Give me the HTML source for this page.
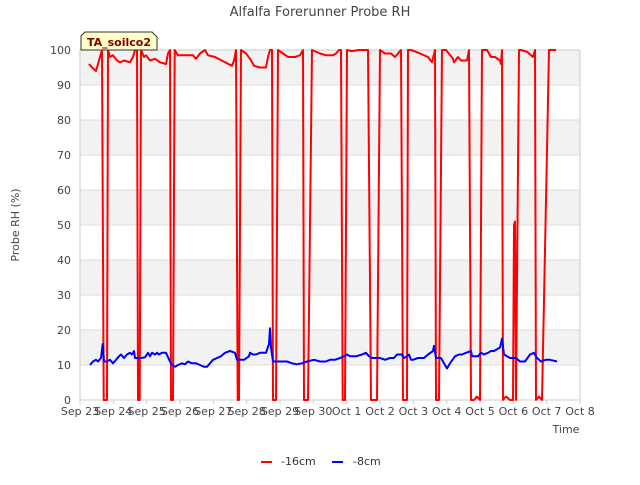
<!DOCTYPE html>
<html><head><meta charset="utf-8"><style>
body{margin:0;background:#fff;font-family:"Liberation Sans","DejaVu Sans",sans-serif}
svg text{font-family:"DejaVu Sans","Liberation Sans",sans-serif}
</style></head><body>
<svg id="c" width="640" height="480" xmlns="http://www.w3.org/2000/svg">
<text x="320" y="16" text-anchor="middle" font-size="13" fill="#444">Alfalfa Forerunner Probe RH</text>
<g id="bands"></g><g id="grid"></g><g id="ticks"></g>
<rect x="80" y="50" width="500" height="350" fill="none" stroke="#ccc"/>
<g id="series"></g>
<text transform="translate(19,225) rotate(-90)" text-anchor="middle" font-size="11" fill="#444">Probe RH (%)</text>
<text x="566" y="433" text-anchor="middle" font-size="11" fill="#444">Time</text>
<g>
<path d="M85,32 L152,32 L157,37 L157,50 L81,50 L81,36 Z" fill="#ffffc8" stroke="#333"/>
<text x="119" y="46" text-anchor="middle" font-size="11" font-weight="bold" fill="#800000">TA_soilco2</text></g>
<g><line x1="261" y1="462" x2="272" y2="462" stroke="red" stroke-width="2"/><text x="281" y="465" font-size="11" fill="#333">-16cm</text></g>
<g><line x1="332" y1="462" x2="343" y2="462" stroke="blue" stroke-width="2"/><text x="353" y="465" font-size="11" fill="#333">-8cm</text></g>
</svg>
<script>
const xTickLabels=["Sep 23","Sep 24","Sep 25","Sep 26","Sep 27","Sep 28","Sep 29","Sep 30","Oct 1","Oct 2","Oct 3","Oct 4","Oct 5","Oct 6","Oct 7","Oct 8"];
const yTicks=[0,10,20,30,40,50,60,70,80,90,100];
const redDays=[0.27,0.36,0.48,0.57,0.66,0.71,0.81,0.84,0.90,0.99,1.11,1.2,1.32,1.5,1.59,1.65,1.71,1.74,1.79,1.83,1.92,1.98,2.1,2.25,2.4,2.58,2.64,2.7,2.73,2.79,2.84,2.94,3.15,3.39,3.48,3.6,3.75,3.84,4.05,4.35,4.56,4.62,4.68,4.73,4.77,4.83,4.98,5.1,5.22,5.4,5.58,5.64,5.7,5.76,5.79,5.88,5.94,6.09,6.24,6.45,6.6,6.69,6.72,6.84,6.96,7.2,7.38,7.59,7.68,7.77,7.83,7.88,7.95,8.01,8.16,8.37,8.64,8.73,8.91,9.0,9.15,9.33,9.45,9.54,9.63,9.69,9.81,9.84,9.93,10.08,10.44,10.56,10.65,10.68,10.77,10.86,10.98,11.19,11.22,11.34,11.43,11.61,11.67,11.73,11.82,11.91,12.0,12.06,12.21,12.33,12.45,12.6,12.63,12.66,12.69,12.78,12.9,12.99,13.02,13.05,13.08,13.17,13.23,13.41,13.59,13.65,13.68,13.77,13.86,14.07,14.28];
const redVals=[96,95,94,97,100,0,0,100,98,98.5,97,96.5,97,96.5,98,100,100,0,0,100,98,98.5,97,97.5,96.5,96,99,100,0,0,100,98.5,98.5,98.5,97.5,99,100,98.5,98,96.5,95.5,97,100,0,0,100,99,97.5,95.5,95,95,98,100,100,0,0,100,99,98,98,98.5,100,0,0,100,99,98.5,98.5,99,100,100,0,0,100,99.7,100,100,0,0,100,99,99,98,99,100,0,0,100,100,99.5,98,96.5,100,0,0,100,100,97.5,96.5,98,97,97,100,0,0,1,0,100,100,98,98,97,96,100,0,1,0,0,50,51,0,100,100,99.5,98,100,0,1,0,100,100];
const blueDays=[0.3,0.39,0.48,0.54,0.63,0.68,0.72,0.81,0.9,0.99,1.08,1.17,1.23,1.32,1.41,1.5,1.56,1.62,1.65,1.74,1.83,1.95,2.04,2.1,2.16,2.25,2.31,2.37,2.46,2.58,2.7,2.76,2.85,2.94,3.06,3.15,3.24,3.36,3.48,3.6,3.72,3.81,3.9,3.99,4.11,4.23,4.35,4.5,4.65,4.71,4.92,5.07,5.1,5.19,5.28,5.4,5.58,5.67,5.7,5.73,5.79,6.0,6.21,6.36,6.51,6.66,6.81,7.02,7.2,7.38,7.5,7.65,7.8,7.92,8.01,8.1,8.28,8.46,8.58,8.67,8.76,9.0,9.15,9.3,9.42,9.51,9.66,9.72,9.81,9.87,9.93,9.99,10.14,10.32,10.44,10.59,10.62,10.68,10.83,10.92,11.01,11.1,11.25,11.37,11.46,11.58,11.73,11.76,11.94,12.03,12.12,12.24,12.33,12.42,12.6,12.66,12.72,12.9,13.08,13.2,13.35,13.5,13.62,13.71,13.83,13.98,14.1,14.31];
const blueVals=[10,11,11.5,11,12,16,11,11,11.5,10.5,11.5,12.5,13,12,13,13.5,13,14,12,12,12,12.2,13.5,12.5,13.5,13,13.5,13,13.5,13.5,11,10,9.5,10,10.5,10.2,11,10.5,10.5,10,9.5,9.5,10.5,11.5,12,12.5,13.5,14,13.5,11.5,11.5,12.5,13.5,13,13,13.5,13.5,16,20.5,15,11,11,11,10.5,10.2,10.5,11,11.5,11,11,11.5,11.5,12,12.5,13,12.5,12.5,13,13.5,12.5,12,12,11.5,12,12,13,13,12,12.5,13,11.5,11.5,12,12,13,14,15.5,12,12,10.5,9,10.5,12.5,13,13,13.5,14,12.5,12.5,13.5,13,13.5,14,14,15,17.5,13,12,12,11,11,13,13.5,12,11,11.5,11.5,11];
const NS="http://www.w3.org/2000/svg";
const X=d=>80+d*500/15, Y=v=>400-v*3.5;
function mk(tag,attrs,parent){const e=document.createElementNS(NS,tag);for(const k in attrs)e.setAttribute(k,attrs[k]);document.getElementById(parent).appendChild(e);return e;}
for(let v=10;v<100;v+=20){const r=mk('rect',{x:80,y:Y(v+10),width:500,height:35,fill:'#f2f2f2'},'bands');

}
yTicks.forEach(v=>{const l=mk('line',{x1:80,x2:580,y1:Y(v),y2:Y(v),stroke:'#ddd'},'grid');


const t=mk('text',{x:71,y:Y(v)+4,'text-anchor':'end','font-size':11,fill:'#444'},'ticks');t.textContent=v;

});
xTickLabels.forEach((s,i)=>{const t=mk('text',{x:X(i),y:415,'text-anchor':'middle','font-size':11,fill:'#444'},'ticks');t.textContent=s;


const l=mk('line',{x1:X(i),x2:X(i),y1:400,y2:404,stroke:'#ccc'},'ticks');

});
function line(days,vals,color,name){const p=mk('polyline',{points:days.map((d,i)=>X(d).toFixed(1)+','+Y(vals[i]).toFixed(1)).join(' '),fill:'none',stroke:color,'stroke-width':2,'stroke-linejoin':'round'},'series');

}
line(redDays,redVals,'red','series-16cm');
line(blueDays,blueVals,'blue','series-8cm');
</script>
</body></html>
